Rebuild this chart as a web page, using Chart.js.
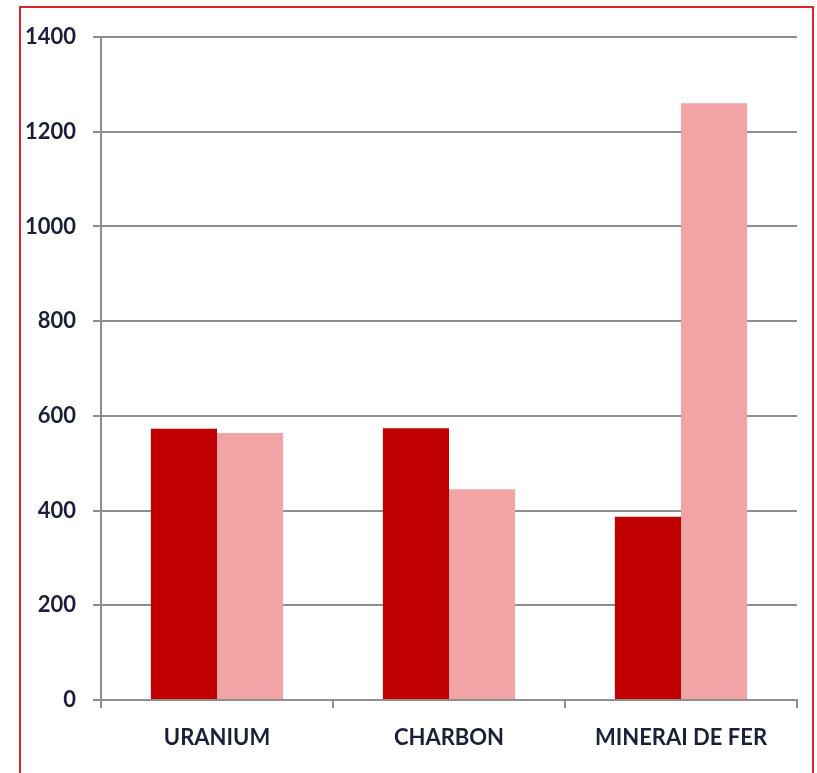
<!DOCTYPE html>
<html>
<head>
<meta charset="utf-8">
<script src="https://cdn.jsdelivr.net/npm/chart.js@4"></script>
<style>
  body { margin: 0; background: #fff; }
  #wrap { position: relative; width: 817px; height: 773px; overflow: hidden; }
  #frame { position: absolute; left: 19px; top: 6px; width: 795px; height: 800px; border: 2px solid #d9262c; box-sizing: border-box; }
  canvas { position: absolute; left: 0; top: 0; }
</style>
</head>
<body>
<div id="wrap">
  <div id="frame"></div>
  <canvas id="myChart" width="817" height="773"></canvas>
</div>
<script>
let categories = ['URANIUM', 'CHARBON', 'MINERAI DE FER'];
let serie1 = [573, 574, 387];
let serie2 = [564, 445, 1260];
let yTicks = [0, 200, 400, 600, 800, 1000, 1200, 1400];

let gris = '#8e8e8e';
let texte = '#1c1f3a';
let police = { family: 'Lato', size: 22, weight: 'bold' };

let ctx = document.getElementById('myChart').getContext('2d');

let myChart = new Chart(ctx, {
  type: 'bar',
  data: {
    labels: categories,
    datasets: [
      {
        label: 'Série 1',
        data: serie1,
        backgroundColor: '#c00000',
        barPercentage: 1,
        categoryPercentage: 0.57
      },
      {
        label: 'Série 2',
        data: serie2,
        backgroundColor: '#f2a3a6',
        barPercentage: 1,
        categoryPercentage: 0.57
      }
    ]
  },
  options: {
    responsive: false,
    animation: false,
    layout: { padding: { left: 0, right: 20, top: 37, bottom: 0 } },
    plugins: {
      legend: { display: false },
      tooltip: { enabled: false }
    },
    scales: {
      x: {
        grid: { drawOnChartArea: false, drawTicks: true, tickLength: 8, color: gris, lineWidth: 2 },
        border: { color: gris, width: 2 },
        ticks: { color: texte, font: police, padding: 17 },
        afterFit: function(scale) { scale.height = 73; }
      },
      y: {
        min: 0,
        max: 1400,
        afterBuildTicks: function(scale) { scale.ticks = yTicks.map(v => ({ value: v })); },
        grid: { color: gris, lineWidth: 2, tickLength: 8 },
        border: { color: gris, width: 2 },
        ticks: { color: texte, font: police, padding: 17, callback: v => String(v) },
        afterFit: function(scale) { scale.width = 101; }
      }
    }
  }
});
</script>
</body>
</html>
